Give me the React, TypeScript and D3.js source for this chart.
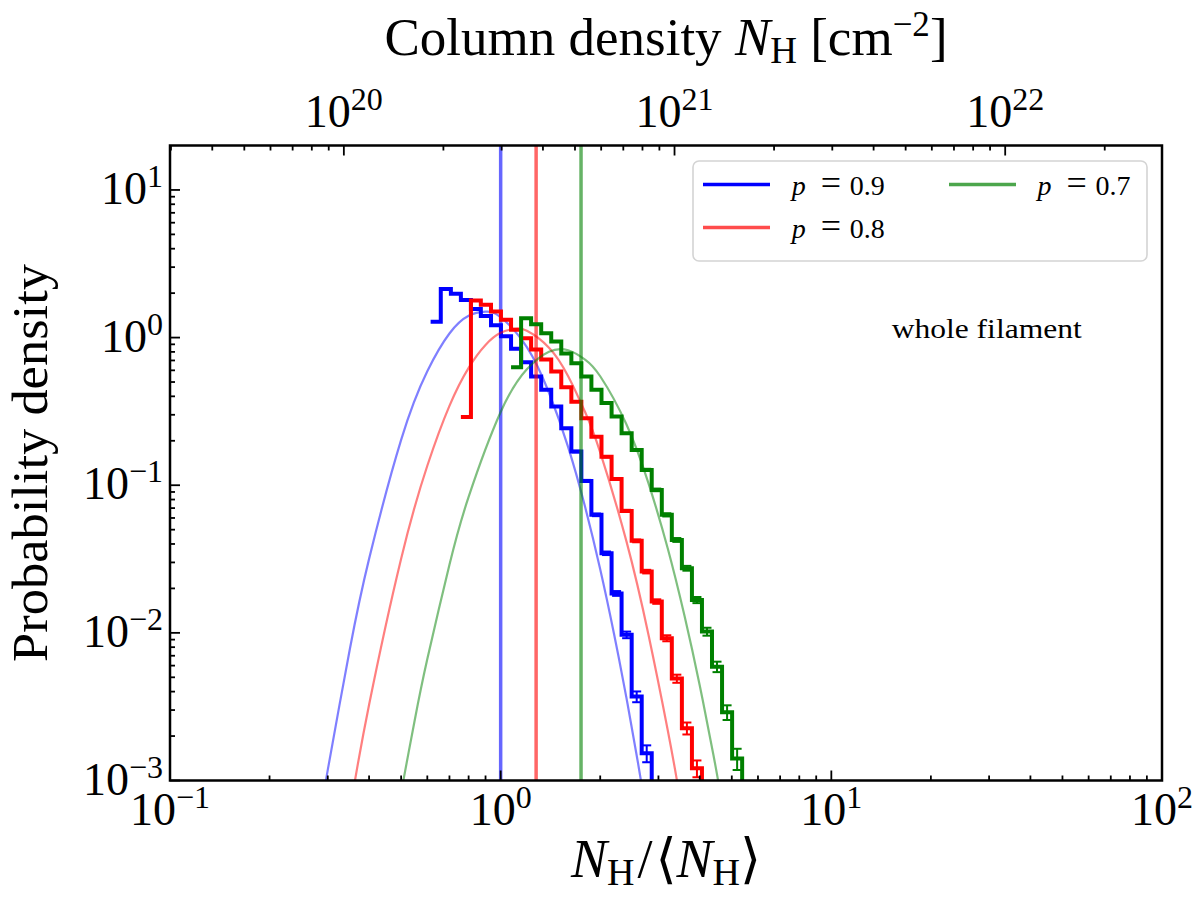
import * as d3 from 'd3';

// shared histogram bin edges, in units of N_H/<N_H>
const BIN_EDGES = [
  0.614, 0.659, 0.707, 0.758, 0.813, 0.871, 0.935, 1.002, 1.075, 1.153, 1.236,
  1.326, 1.422, 1.525, 1.636, 1.754, 1.881, 2.018, 2.165, 2.321, 2.49, 2.67,
  2.863, 3.071, 3.293, 3.532, 3.788, 4.062, 4.356, 4.672, 5.011, 5.374,
];

const LABELS = ['p = 0.9', 'p = 0.8', 'p = 0.7'];
const START_BIN = [0, 3, 8];

const HIST_P09 = [
  1.28, 2.13, 1.98, 1.8, 1.56, 1.4, 1.21, 1.02, 0.84, 0.68, 0.545, 0.443, 0.341,
  0.243, 0.169, 0.107, 0.063, 0.0346, 0.0185, 0.0097, 0.0037, 0.00153,
];
const ERR_P09 = [
  0, 0, 0, 0, 0, 0, 0, 0, 0, 0, 0, 0, 0, 0, 0.0021, 0.00167, 0.00128, 0.00095,
  0.00069, 0.0005, 0.00031, 0.0002,
];
const HIST_P08 = [
  0.29, 1.78, 1.67, 1.5, 1.32, 1.13, 0.99, 0.83, 0.71, 0.59, 0.46, 0.368, 0.284,
  0.213, 0.156, 0.11, 0.067, 0.042, 0.026, 0.0163, 0.0092, 0.0049, 0.00226, 0.00121,
];
const ERR_P08 = [
  0, 0, 0, 0, 0, 0, 0, 0, 0, 0, 0, 0, 0, 0, 0.0018, 0.0015, 0.00116, 0.00092,
  0.00073, 0.00057, 0.00043, 0.00031, 0.00021, 0.000157,
];
const HIST_P07 = [
  0.63, 1.35, 1.23, 1.07, 0.94, 0.78, 0.67, 0.545, 0.443, 0.36, 0.292, 0.225,
  0.173, 0.127, 0.093, 0.063, 0.0426, 0.0274, 0.0167, 0.0102, 0.0059, 0.0029, 0.00141,
];
const ERR_P07 = [
  0, 0, 0, 0, 0, 0, 0, 0, 0, 0, 0, 0, 0, 0.0022, 0.0019, 0.00156, 0.00128,
  0.00103, 0.0008, 0.00063, 0.00048, 0.00033, 0.00023,
];

// log-normal fits, sampled off the figure
const FIT_X_P09 = [0.28, 0.3, 0.35, 0.4, 0.5, 0.6, 0.7, 0.8, 0.9, 1.0, 1.2, 1.4, 1.6, 1.8, 2.0, 2.2, 2.4, 2.6, 2.8];
const FIT_Y_P09 = [0.00046, 0.00118, 0.0078, 0.0317, 0.203, 0.592, 1.066, 1.405, 1.498, 1.374, 0.861, 0.423, 0.181, 0.0714, 0.027, 0.00995, 0.00364, 0.00133, 0.00049];
const FIT_X_P08 = [0.34, 0.36, 0.4, 0.5, 0.6, 0.7, 0.8, 0.9, 1.0, 1.1, 1.2, 1.4, 1.6, 1.8, 2.0, 2.4, 2.8, 3.2, 3.4, 3.6];
const FIT_Y_P08 = [0.00044, 0.00091, 0.00326, 0.0318, 0.1355, 0.345, 0.624, 0.892, 1.077, 1.147, 1.112, 0.854, 0.548, 0.313, 0.167, 0.0418, 0.00966, 0.0022, 0.00105, 0.0005];
const FIT_X_P07 = [0.48, 0.5, 0.55, 0.6, 0.7, 0.8, 1.0, 1.2, 1.4, 1.6, 1.8, 2.0, 2.4, 2.8, 3.2, 3.6, 4.0, 4.4, 4.6, 4.8];
const FIT_Y_P07 = [0.00049, 0.00083, 0.00258, 0.00664, 0.0289, 0.0833, 0.313, 0.61, 0.803, 0.821, 0.71, 0.547, 0.259, 0.1029, 0.0374, 0.01294, 0.0044, 0.00149, 0.00086, 0.00051];

const VLINES = [1.0, 1.28, 1.75];

const N_MEAN = 2.98e20; // cm^-2, sets the top axis
const X_TICKS = [0.1, 1, 10, 100];
const Y_TICKS = [1e-3, 1e-2, 1e-1, 1, 10];
const TOP_TICKS = [1e20, 1e21, 1e22];

const HIST_COLORS = ['#0000ff', '#ff0000', '#008000'];
const FONT = "'Liberation Serif', 'DejaVu Serif', serif";

const W = 1200;
const H = 902;
const left = 170;
const right = 1162;
const top = 145.5;
const bottom = 780.5;

const x = d3.scaleLog().domain([0.1, 100]).range([left, right]);
const y = d3.scaleLog().domain([1e-3, 20]).range([bottom, top]);
const xTop = d3.scaleLog().domain([0.1 * N_MEAN, 100 * N_MEAN]).range([left, right]);

function minorTicks(domain: number[]) {
  const out: number[] = [];
  const lo = Math.floor(Math.log10(domain[0]));
  const hi = Math.ceil(Math.log10(domain[1]));
  for (let e = lo; e < hi; e++) {
    for (let m = 2; m <= 9; m++) {
      const v = m * Math.pow(10, e);
      if (v > domain[0] && v < domain[1]) out.push(v);
    }
  }
  return out;
}

function expOf(v: number) {
  const e = Math.round(Math.log10(v));
  return e < 0 ? '\u2212' + Math.abs(e) : String(e);
}

function Pow({ px, py, anchor, value }: { px: number; py: number; anchor: string; value: number }) {
  return (
    <text x={px} y={py} textAnchor={anchor} fontSize={46} fontFamily={FONT} fill="#000">
      <tspan>10</tspan>
      <tspan dy={-17} fontSize={32}>{expOf(value)}</tspan>
    </text>
  );
}

export default function App() {
  const hists = [HIST_P09, HIST_P08, HIST_P07];
  const errs = [ERR_P09, ERR_P08, ERR_P07];
  const fits = [
    FIT_X_P09.map((v, i) => [v, FIT_Y_P09[i]]),
    FIT_X_P08.map((v, i) => [v, FIT_Y_P08[i]]),
    FIT_X_P07.map((v, i) => [v, FIT_Y_P07[i]]),
  ];

  const stepLine = d3
    .line<[number, number]>()
    .x((d) => x(d[0]))
    .y((d) => (d[1] <= 0 ? bottom + 5 : y(d[1])))
    .curve(d3.curveStepAfter);

  const fitLine = d3
    .line<number[]>()
    .x((d) => x(d[0]))
    .y((d) => y(d[1]))
    .curve(d3.curveNatural);

  const histPath = (vals: number[], s: number) => {
    const pts: [number, number][] = vals.map((v, i) => [BIN_EDGES[s + i], v]);
    const end = BIN_EDGES[s + vals.length];
    pts.push([end, vals[vals.length - 1]]);
    pts.push([end, 0]);
    return stepLine(pts) || '';
  };

  const xMinor = minorTicks(x.domain());
  const yMinor = minorTicks(y.domain());
  const topMinor = minorTicks(xTop.domain());

  return (
    <svg width={W} height={H} style={{ position: 'absolute', left: 0, top: 0, background: '#fff' }}>
      <defs>
        <clipPath id="plot">
          <rect x={left} y={top} width={right - left} height={bottom - top} />
        </clipPath>
      </defs>
      <rect x={0} y={0} width={W} height={H} fill="#fff" />

      <g clipPath="url(#plot)">
        {hists.map((vals, si) => {
          const s = START_BIN[si];
          const col = HIST_COLORS[si];
          return (
            <g key={si}>
              <path d={histPath(vals, s)} fill="none" stroke={col} strokeWidth={4} strokeLinejoin="miter" />
              {vals.map((v, i) => {
                const e = errs[si][i];
                if (!e) return null;
                const cx = x(Math.sqrt(BIN_EDGES[s + i] * BIN_EDGES[s + i + 1]));
                const ya = y(v + e);
                const yb = y(v - e);
                return (
                  <g key={i} stroke={col} strokeWidth={2}>
                    <line x1={cx} x2={cx} y1={ya} y2={yb} />
                    <line x1={cx - 4.5} x2={cx + 4.5} y1={ya} y2={ya} />
                    <line x1={cx - 4.5} x2={cx + 4.5} y1={yb} y2={yb} />
                  </g>
                );
              })}
              <path d={fitLine(fits[si]) || ''} fill="none" stroke={col} strokeOpacity={0.5} strokeWidth={2.2} />
              <line
                x1={x(VLINES[si])}
                x2={x(VLINES[si])}
                y1={top}
                y2={bottom}
                stroke={col}
                strokeOpacity={0.6}
                strokeWidth={3.5}
              />
            </g>
          );
        })}
      </g>

      {/* ticks, pointing inwards */}
      <g stroke="#000" strokeWidth={1.8}>
        {X_TICKS.map((t) => (
          <line key={'xb' + t} x1={x(t)} x2={x(t)} y1={bottom} y2={bottom - 10} />
        ))}
        {xMinor.map((t) => (
          <line key={'xm' + t} x1={x(t)} x2={x(t)} y1={bottom} y2={bottom - 5} />
        ))}
        {Y_TICKS.map((t) => (
          <line key={'yb' + t} x1={left} x2={left + 10} y1={y(t)} y2={y(t)} />
        ))}
        {yMinor.map((t) => (
          <line key={'ym' + t} x1={left} x2={left + 5} y1={y(t)} y2={y(t)} />
        ))}
        {TOP_TICKS.map((t) => (
          <line key={'tb' + t} x1={xTop(t)} x2={xTop(t)} y1={top} y2={top + 10} />
        ))}
        {topMinor.map((t) => (
          <line key={'tm' + t} x1={xTop(t)} x2={xTop(t)} y1={top} y2={top + 5} />
        ))}
      </g>

      <rect x={left} y={top} width={right - left} height={bottom - top} fill="none" stroke="#000" strokeWidth={2.5} />

      {X_TICKS.map((t) => (
        <Pow key={'xl' + t} px={x(t)} py={825} anchor="middle" value={t} />
      ))}
      {Y_TICKS.map((t) => (
        <Pow key={'yl' + t} px={163} py={y(t) + 14} anchor="end" value={t} />
      ))}
      {TOP_TICKS.map((t) => (
        <Pow key={'tl' + t} px={xTop(t)} py={127} anchor="middle" value={t} />
      ))}

      {/* axis labels */}
      <text x={666} y={55} textAnchor="middle" fontSize={53} fontFamily={FONT}>
        {'Column density '}
        <tspan fontStyle="italic">N</tspan>
        <tspan fontSize={37} dy={8}>H</tspan>
        <tspan dy={-8}>{' [cm'}</tspan>
        <tspan fontSize={35} dy={-19}>{'\u22122'}</tspan>
        <tspan dy={19}>]</tspan>
      </text>

      <text x={666} y={877} textAnchor="middle" fontSize={54} fontFamily={FONT}>
        <tspan fontStyle="italic">N</tspan>
        <tspan fontSize={38} dy={8}>H</tspan>
        <tspan dy={-8} dx={3}>/</tspan>
        <tspan dx={3}>{'\u27e8'}</tspan>
        <tspan fontStyle="italic">N</tspan>
        <tspan fontSize={38} dy={8}>H</tspan>
        <tspan dy={-8}>{'\u27e9'}</tspan>
      </text>

      <text
        transform={`translate(47, ${(top + bottom) / 2}) rotate(-90)`}
        textAnchor="middle"
        fontSize={50}
        fontFamily={FONT}
        textLength={398}
        lengthAdjust="spacingAndGlyphs"
      >
        Probability density
      </text>

      {/* legend */}
      <rect x={693} y={161} width={454} height={100} rx={6} fill="#fff" fillOpacity={0.8} stroke="#d4d4d4" strokeWidth={1.6} />
      {LABELS.map((lab, i) => {
        const col = i < 2 ? 0 : 1;
        const row = i < 2 ? i : 0;
        const lx = col === 0 ? 703 : 949;
        const ly = row === 0 ? 184.5 : 227.5;
        const tx = col === 0 ? 791.7 : 1037.5;
        const colors = ['#0000ff', 'rgba(255,0,0,0.7)', 'rgba(0,128,0,0.7)'];
        return (
          <g key={lab}>
            <line x1={lx} x2={lx + 67} y1={ly} y2={ly} stroke={colors[i]} strokeWidth={3.5} />
            <text x={tx} y={ly + 10} fontSize={28} fontFamily={FONT}>
              <tspan fontStyle="italic">{lab.split(' ')[0]}</tspan>
              <tspan x={tx + 29} fontSize={36}>=</tspan>
              <tspan x={tx + 58} fontSize={28}>{lab.split(' ')[2]}</tspan>
            </text>
          </g>
        );
      })}

      <text x={891.7} y={338} fontSize={27} fontFamily={FONT} textLength={190} lengthAdjust="spacingAndGlyphs">
        whole filament
      </text>
    </svg>
  );
}
